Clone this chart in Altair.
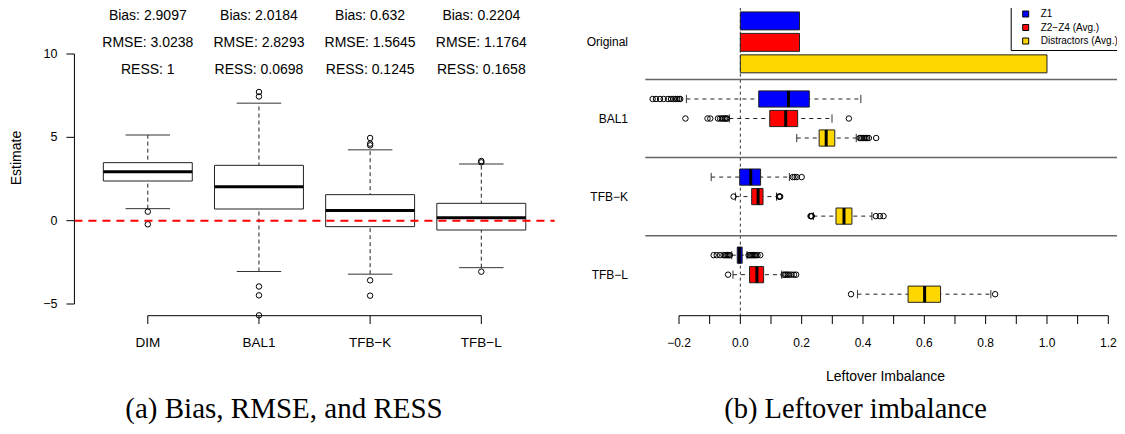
import altair as alt
import pandas as pd

# ---------------- (a) Bias, RMSE, and RESS ----------------
methods = ["DIM", "BAL1", "TFB−K", "TFB−L"]
est_q1 = [2.38, 0.70, -0.36, -0.56]
est_median = [2.93, 2.03, 0.61, 0.18]
est_q3 = [3.48, 3.32, 1.56, 1.04]
est_whisker_low = [0.72, -3.05, -3.21, -2.82]
est_whisker_high = [5.14, 7.05, 4.25, 3.40]
est_outlier_method = ["DIM", "DIM", "BAL1", "BAL1", "BAL1", "BAL1", "BAL1",
                      "TFB−K", "TFB−K", "TFB−K", "TFB−K", "TFB−K",
                      "TFB−L", "TFB−L", "TFB−L"]
est_outlier_value = [0.54, -0.22, 7.72, 7.45, -3.95, -4.48, -5.68,
                     4.96, 4.62, 4.52, -3.58, -4.50,
                     3.58, 3.50, -3.06]
bias_text = ["Bias: 2.9097", "Bias: 2.0184", "Bias: 0.632", "Bias: 0.2204"]
rmse_text = ["RMSE: 3.0238", "RMSE: 2.8293", "RMSE: 1.5645", "RMSE: 1.1764"]
ress_text = ["RESS: 1", "RESS: 0.0698", "RESS: 0.1245", "RESS: 0.1658"]
y_ticks_left = [-5, 0, 5, 10]
y_title_left = "Estimate"
caption_a = "(a) Bias, RMSE, and RESS"

# ---------------- (b) Leftover imbalance ----------------
li_methods = ["BAL1", "TFB−K", "TFB−L"]
row_labels = ["Original", "BAL1", "TFB−K", "TFB−L"]
groups = ["Z1", "Z2−Z4 (Avg.)", "Distractors (Avg.)"]
group_colors = ["#0000FF", "#FF0000", "#FFD700"]
original_values = [0.193, 0.193, 1.0]
# order: BAL1 (Z1, Z2-Z4, Distr.), TFB-K (...), TFB-L (...)
li_q1 = [0.060, 0.096, 0.257, -0.002, 0.037, 0.312, -0.010, 0.030, 0.547]
li_median = [0.157, 0.148, 0.280, 0.034, 0.058, 0.338, -0.003, 0.054, 0.601]
li_q3 = [0.225, 0.187, 0.308, 0.066, 0.074, 0.364, 0.006, 0.076, 0.653]
li_whisker_low = [-0.176, -0.036, 0.184, -0.095, -0.016, 0.238, -0.028, -0.024, 0.382]
li_whisker_high = [0.393, 0.299, 0.378, 0.160, 0.118, 0.429, 0.022, 0.135, 0.817]
li_outliers = [
    [-0.286, -0.275, -0.262, -0.250, -0.236, -0.226, -0.218, -0.212, -0.206, -0.200, -0.196],
    [-0.179, -0.107, -0.098, -0.073, -0.066, -0.060, -0.055, -0.050, -0.046, -0.043, 0.354],
    [0.389, 0.393, 0.398, 0.403, 0.408, 0.413, 0.419, 0.443],
    [0.171, 0.177, 0.184, 0.200],
    [-0.022, 0.126, 0.128, 0.130],
    [0.229, 0.231, 0.233, 0.442, 0.455, 0.467],
    [-0.087, -0.077, -0.066, -0.055, -0.050, -0.046, -0.042, -0.038, -0.034,
     0.027, 0.031, 0.035, 0.039, 0.043, 0.047, 0.051, 0.056, 0.065],
    [-0.040, 0.141, 0.146, 0.150, 0.155, 0.160, 0.167, 0.175, 0.182],
    [0.361, 0.831],
]
x_ticks_right = [round(-0.2 + 0.1 * i, 1) for i in range(15)]
x_title_right = "Leftover Imbalance"
caption_b = "(b) Leftover imbalance"

FONT = "Liberation Sans"
SERIF = "Liberation Serif"

# ---------------- scales (pixel ranges inside a 1109x418 view) ----------------
XL = alt.Scale(domain=[1, 4], range=[139.8, 473.3], nice=False, zero=False)
YL = alt.Scale(domain=[-5, 10], range=[296, 46], nice=False, zero=False)
XR = alt.Scale(domain=[-0.2, 1.2], range=[671, 1100.3], nice=False, zero=False)
YR = alt.Scale(domain=[1, 15], range=[12.9, 286.2], nice=False, zero=False)
COLOR = alt.Scale(domain=groups, range=group_colors)

BOXW = 0.4       # half box width (boxwex 0.8)
STAPLE = 0.2     # half staple width
XL_LO, XL_HI = 0.5 - 0.04 * 4, 4.5 + 0.04 * 4
AXIS_Y = 307.7   # pixel row of both bottom axis lines
TICK = 8.3


def fmt_num(v, nd=None):
    s = f"{v:.{nd}f}" if nd is not None else f"{v}"
    return s.replace("-", "−")


# ---------------- panel (a) ----------------
pos = list(range(1, len(methods) + 1))
box_a = pd.DataFrame({
    "method": methods, "pos": pos, "q1": est_q1, "med": est_median, "q3": est_q3,
    "wlo": est_whisker_low, "whi": est_whisker_high,
})
box_a["x0"] = box_a["pos"] - BOXW
box_a["x1"] = box_a["pos"] + BOXW
box_a["c0"] = box_a["pos"] - STAPLE
box_a["c1"] = box_a["pos"] + STAPLE
caps_a = pd.concat([
    box_a[["pos", "c0", "c1"]].assign(y=box_a["wlo"]),
    box_a[["pos", "c0", "c1"]].assign(y=box_a["whi"]),
])
out_a = pd.DataFrame({"method": est_outlier_method, "value": est_outlier_value})
out_a["pos"] = out_a["method"].map({m: i + 1 for i, m in enumerate(methods)})
ref_a = pd.DataFrame({"x0": [XL_LO], "x1": [XL_HI], "y": [0]})
yt_a = pd.DataFrame({"v": y_ticks_left, "lab": [fmt_num(v) for v in y_ticks_left],
                     "x": XL_LO})
ydom_a = pd.DataFrame({"x": [XL_LO], "y0": [min(y_ticks_left)], "y1": [max(y_ticks_left)]})
xdom_a = pd.DataFrame({"x0": [pos[0]], "x1": [pos[-1]]})


def xl(f):
    return alt.X(f, scale=XL, axis=None)


def yl(f):
    return alt.Y(f, scale=YL, axis=None)


whisk_a = alt.Chart(box_a).mark_rule(color="#222", strokeDash=[4, 3], strokeWidth=1).encode(
    x=xl("pos:Q"), y=yl("wlo:Q"), y2="whi:Q")
capsl_a = alt.Chart(caps_a).mark_rule(color="#333", strokeWidth=1).encode(
    x=xl("c0:Q"), x2="c1:Q", y=yl("y:Q"))
rect_a = alt.Chart(box_a).mark_rect(fill="white", stroke="#222", strokeWidth=1).encode(
    x=xl("x0:Q"), x2="x1:Q", y=yl("q1:Q"), y2="q3:Q")
med_a = alt.Chart(box_a).mark_rule(color="black", strokeWidth=3).encode(
    x=xl("x0:Q"), x2="x1:Q", y=yl("med:Q"))
pts_a = alt.Chart(out_a).mark_point(shape="circle", filled=False, color="black",
                                    size=30, strokeWidth=1, opacity=1).encode(
    x=xl("pos:Q"), y=yl("value:Q"))
red_a = alt.Chart(ref_a).mark_rule(color="#FF0000", strokeWidth=2, strokeDash=[8, 6]).encode(
    x=xl("x0:Q"), x2="x1:Q", y=yl("y:Q"))

# y axis of panel (a)
ydom_line = alt.Chart(ydom_a).mark_rule(color="black", strokeWidth=1).encode(
    x=xl("x:Q"), y=yl("y0:Q"), y2="y1:Q")
ytick_a = alt.Chart(yt_a).mark_rule(color="black", strokeWidth=1, xOffset=-8).encode(
    x=xl("x:Q"), x2="x:Q", y=yl("v:Q"))
ylab_a = alt.Chart(yt_a).mark_text(font=FONT, fontSize=12.5, color="black", align="right",
                                   baseline="middle", dx=-17).encode(
    x=xl("x:Q"), y=yl("v:Q"), text="lab:N")
ytitle_a = alt.Chart(pd.DataFrame({"t": [y_title_left]})).mark_text(
    font=FONT, fontSize=14, color="black", angle=270, align="center", baseline="middle"
).encode(x=alt.value(9), y=alt.value(150), text="t:N")

# x axis of panel (a)
xdom_line = alt.Chart(xdom_a).mark_rule(color="black", strokeWidth=1).encode(
    x=xl("x0:Q"), x2="x1:Q", y=alt.value(AXIS_Y))
xtick_a = alt.Chart(box_a).mark_rule(color="black", strokeWidth=1).encode(
    x=xl("pos:Q"), y=alt.value(AXIS_Y), y2=alt.value(AXIS_Y + TICK))
xlab_a = alt.Chart(box_a).mark_text(font=FONT, fontSize=13.5, color="black",
                                    align="center", baseline="middle").encode(
    x=xl("pos:Q"), y=alt.value(335), text="method:N")

ann_layers = []
for txt, ypix in [(bias_text, 7.7), (rmse_text, 34.7), (ress_text, 61.7)]:
    df = pd.DataFrame({"pos": pos, "t": txt})
    ann_layers.append(
        alt.Chart(df).mark_text(font=FONT, fontSize=14, color="black",
                                align="center", baseline="middle").encode(
            x=xl("pos:Q"), y=alt.value(ypix), text="t:N")
    )
cap_a = alt.Chart(pd.DataFrame({"t": [caption_a]})).mark_text(
    font=SERIF, fontSize=29, color="black", align="center", baseline="middle"
).encode(x=alt.value(276), y=alt.value(401), text="t:N")

left = alt.layer(whisk_a, capsl_a, rect_a, med_a, pts_a, red_a,
                 ydom_line, ytick_a, ylab_a, ytitle_a, xdom_line, xtick_a, xlab_a,
                 *ann_layers, cap_a)

# ---------------- panel (b) ----------------
orig = pd.DataFrame({"group": groups, "value": original_values})
orig["start"] = 0.0
orig["slot"] = [1 + 1.1 * i for i in range(len(groups))]
orig["y0"] = orig["slot"] - 0.46
orig["y1"] = orig["slot"] + 0.46

rows = []
for mi, m in enumerate(li_methods):
    for gi, g in enumerate(groups):
        rows.append({"method": m, "group": g, "slot": 5 + 4 * mi + gi})
box_b = pd.DataFrame(rows)
box_b["q1"] = li_q1
box_b["med"] = li_median
box_b["q3"] = li_q3
box_b["wlo"] = li_whisker_low
box_b["whi"] = li_whisker_high
box_b["y0"] = box_b["slot"] - 0.415
box_b["y1"] = box_b["slot"] + 0.415
box_b["s0"] = box_b["slot"] - 0.21
box_b["s1"] = box_b["slot"] + 0.21
caps_b = pd.concat([
    box_b[["s0", "s1"]].assign(x=box_b["wlo"]),
    box_b[["s0", "s1"]].assign(x=box_b["whi"]),
])
out_rows = []
for i, vals in enumerate(li_outliers):
    for v in vals:
        out_rows.append({"slot": box_b["slot"][i], "value": v})
out_b = pd.DataFrame(out_rows)
labels_b = pd.DataFrame({"label": row_labels, "slot": [2.1, 6, 10, 14]})
sep_b = pd.DataFrame({"slot": [4, 8, 12], "x0": -0.31, "x1": 1.3})
zero_b = pd.DataFrame({"x": [0.0], "y0": [-0.6], "y1": [16.1]})
xt_b = pd.DataFrame({"v": x_ticks_right})
xt_b["lab"] = [fmt_num(v, 1) if round(v * 10) % 2 == 0 else "" for v in x_ticks_right]
xdom_b = pd.DataFrame({"x0": [min(x_ticks_right)], "x1": [max(x_ticks_right)]})


def xr(f):
    return alt.X(f, scale=XR, axis=None)


def yr(f):
    return alt.Y(f, scale=YR, axis=None)


legend = alt.Legend(
    orient="none", legendX=1002.7, legendY=-3, title=None,
    strokeColor="black", fillColor="white", padding=4, cornerRadius=0,
    symbolType="square", symbolSize=36, symbolStrokeColor="black",
    symbolStrokeWidth=1, symbolOffset=6, labelOffset=10,
    labelFontSize=10, labelFont=FONT, labelColor="black", rowPadding=3.5,
)

zero_line = alt.Chart(zero_b).mark_rule(color="#333", strokeDash=[3, 3], strokeWidth=1).encode(
    x=xr("x:Q"), y=yr("y0:Q"), y2="y1:Q")
seps = alt.Chart(sep_b).mark_rule(color="#666", strokeWidth=1.5).encode(
    x=xr("x0:Q"), x2="x1:Q", y=yr("slot:Q"))
bars = alt.Chart(orig).mark_rect(stroke="#222", strokeWidth=1).encode(
    x=xr("start:Q"), x2="value:Q", y=yr("y0:Q"), y2="y1:Q",
    color=alt.Color("group:N", scale=COLOR, legend=legend))
whisk_b = alt.Chart(box_b).mark_rule(color="#222", strokeDash=[4, 4], strokeWidth=1).encode(
    x=xr("wlo:Q"), x2="whi:Q", y=yr("slot:Q"))
capsl_b = alt.Chart(caps_b).mark_rule(color="#333", strokeWidth=1).encode(
    x=xr("x:Q"), y=yr("s0:Q"), y2="s1:Q")
rect_b = alt.Chart(box_b).mark_rect(stroke="#222", strokeWidth=1).encode(
    x=xr("q1:Q"), x2="q3:Q", y=yr("y0:Q"), y2="y1:Q",
    color=alt.Color("group:N", scale=COLOR, legend=legend))
med_b = alt.Chart(box_b).mark_rule(color="black", strokeWidth=3).encode(
    x=xr("med:Q"), y=yr("y0:Q"), y2="y1:Q")
pts_b = alt.Chart(out_b).mark_point(shape="circle", filled=False, color="black",
                                    size=30, strokeWidth=1, opacity=1).encode(
    x=xr("value:Q"), y=yr("slot:Q"))
lab_b = alt.Chart(labels_b).mark_text(font=FONT, fontSize=12, color="black",
                                      align="right", baseline="middle").encode(
    x=alt.value(620), y=yr("slot:Q"), text="label:N")

# x axis of panel (b)
xdom_line_b = alt.Chart(xdom_b).mark_rule(color="black", strokeWidth=1).encode(
    x=xr("x0:Q"), x2="x1:Q", y=alt.value(AXIS_Y))
xtick_b = alt.Chart(xt_b).mark_rule(color="black", strokeWidth=1).encode(
    x=xr("v:Q"), y=alt.value(AXIS_Y), y2=alt.value(AXIS_Y + TICK))
xlab_b = alt.Chart(xt_b).mark_text(font=FONT, fontSize=12, color="black",
                                   align="center", baseline="middle").encode(
    x=xr("v:Q"), y=alt.value(335.3), text="lab:N")
xtitle_b = alt.Chart(pd.DataFrame({"t": [x_title_right]})).mark_text(
    font=FONT, fontSize=14, color="black", align="center", baseline="middle"
).encode(x=alt.value(877.5), y=alt.value(369.3), text="t:N")

cap_b = alt.Chart(pd.DataFrame({"t": [caption_b]})).mark_text(
    font=SERIF, fontSize=28.5, color="black", align="center", baseline="middle"
).encode(x=alt.value(847.5), y=alt.value(401), text="t:N")

right = alt.layer(zero_line, seps, bars, whisk_b, capsl_b, rect_b, med_b, pts_b, lab_b,
                  xdom_line_b, xtick_b, xlab_b, xtitle_b, cap_b)

chart = alt.layer(left, right).resolve_scale(
    x="independent", y="independent"
).properties(
    width=1109, height=418,
    autosize=alt.AutoSizeParams(type="none"),
    padding=0, background="white",
).configure_view(strokeWidth=0)

chart.save("out.html", embed_options={"renderer": "svg", "actions": False})
